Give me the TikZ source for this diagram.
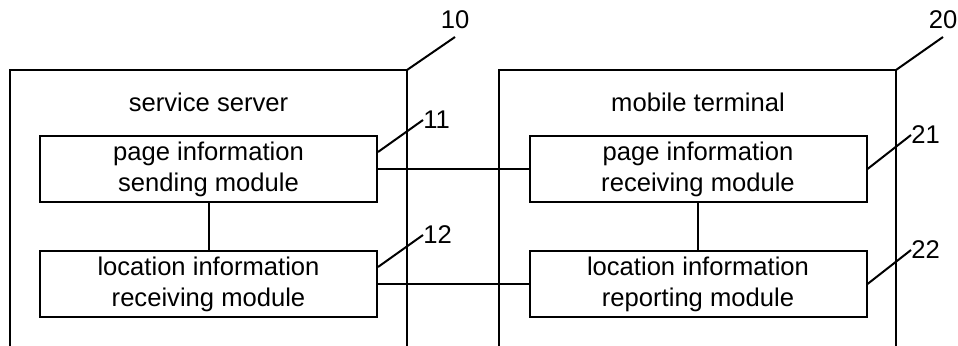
\documentclass[tikz,border=0pt]{standalone}
\usepackage{fontspec}
\setmainfont{Liberation Sans}
\usetikzlibrary{positioning}

\begin{document}
\begin{tikzpicture}[
    x=0.5pt, y=-0.5pt,
    frame/.style={line width=1pt, draw=black},
    module_box/.style={draw=black, line width=1pt, minimum width=168.5pt, minimum height=33pt, inner sep=0pt, align=center, font=\fontsize{12.8}{15.5}\selectfont},
    title_text/.style={inner sep=0pt, font=\fontsize{12.8}{15.5}\selectfont},
    ref_num/.style={inner sep=0pt, anchor=west, font=\fontsize{12.8}{15.5}\selectfont},
    top_num/.style={inner sep=4pt, anchor=south, font=\fontsize{12.8}{15.5}\selectfont},
    link/.style={line width=1pt, draw=black}
]
    \useasboundingbox (0,0) rectangle (958,346);

    % Service server frame (open at the bottom)
    \coordinate (srv_sw) at (10,346);
    \coordinate (srv_ne) at (407,70);
    \draw[frame] (srv_sw) |- (srv_ne) -- (srv_ne |- srv_sw);
    \node[title_text] (srv_title) at (208.5,102) {service server};

    % Mobile terminal frame (open at the bottom)
    \coordinate (mt_sw) at (499,346);
    \coordinate (mt_ne) at (896,70);
    \draw[frame] (mt_sw) |- (mt_ne) -- (mt_ne |- mt_sw);
    \node[title_text] (mt_title) at (698,102) {mobile terminal};

    % Modules of the server
    \node[module_box] (page_send) at (208.5,169) {page information\\sending module};
    \node[module_box] (loc_recv) at (208.5,284) {location information\\receiving module};

    % Modules of the terminal
    \node[module_box] (page_recv) at (698,169) {page information\\receiving module};
    \node[module_box] (loc_report) at (698,284) {location information\\reporting module};

    % Links between the modules
    \draw[link] (page_send.south) -- (loc_recv.north);
    \draw[link] (page_recv.south) -- (loc_report.north);
    \draw[link] (page_send.east) -- (page_recv.west);
    \draw[link] (loc_recv.east) -- (loc_report.west);

    % Reference numbers and their leaders
    \node[top_num] (num_10) at (455,37) {10};
    \draw[link] (srv_ne) -- (num_10.south);
    \node[top_num] (num_20) at (943,37) {20};
    \draw[link] (mt_ne) -- (num_20.south);

    \node[ref_num] (num_11) at (423,120) {11};
    \draw[link] ([yshift=8.5pt]page_send.east) -- (num_11.west);
    \node[ref_num] (num_12) at (423,235) {12};
    \draw[link] ([yshift=8.5pt]loc_recv.east) -- (num_12.west);
    \node[ref_num] (num_21) at (911,135) {21};
    \draw[link] (page_recv.east) -- (num_21.west);
    \node[ref_num] (num_22) at (911,250) {22};
    \draw[link] (loc_report.east) -- (num_22.west);

\end{tikzpicture}
\end{document}
